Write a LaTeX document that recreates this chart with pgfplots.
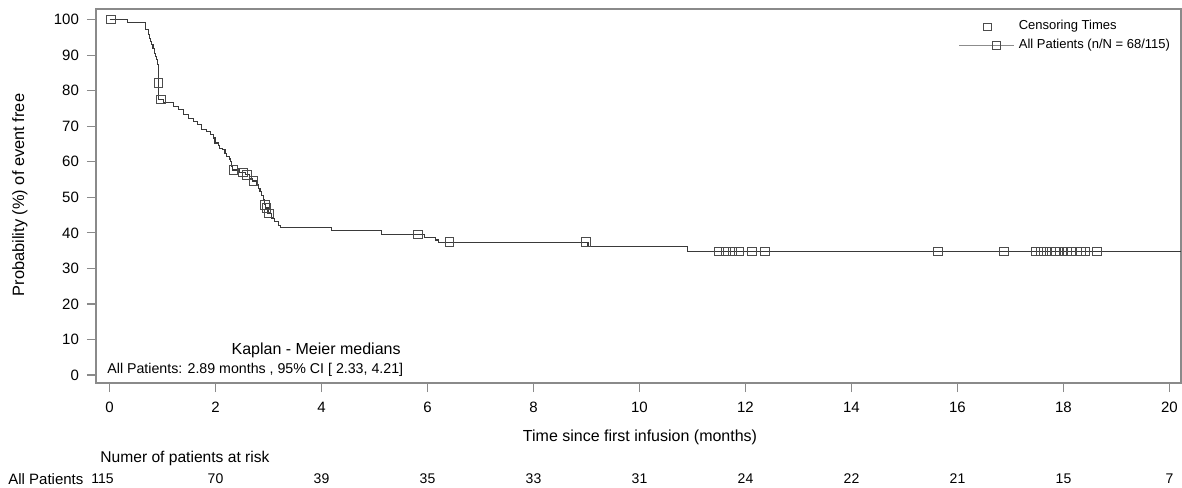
\documentclass[border=0pt]{standalone}
\usepackage{fontspec}
\setmainfont{Liberation Sans}
\usepackage{pgfplots}
\pgfplotsset{compat=1.18}
\definecolor{kmline}{HTML}{3A3A3A}
\definecolor{frame}{HTML}{8A8A8A}
\begin{document}
\begin{tikzpicture}[x=1pt,y=1pt]
\useasboundingbox (0,0) rectangle (591,243.5);
\begin{axis}[
  at={(48pt,52pt)}, anchor=south west,
  scale only axis, width=542.5pt, height=187pt,
  xmin=-0.255, xmax=20.22, ymin=-2.25, ymax=103,
  xtick={0,2,...,20}, ytick={0,10,...,100},
  tick align=outside, xtick pos=left, ytick pos=left,
  major tick length=4.5pt,
  tick style={frame, line width=0.6pt},
  axis line style={frame, line width=0.7pt},
  ticklabel style={font=\fontsize{7.5}{9}\selectfont},
  xticklabel style={yshift=-1.5pt},
  yticklabel style={xshift=-0.5pt},
  /pgf/number format/assume math mode=true,
  legend style={draw=none, fill=none, at={(axis cs:16.02,101.0)}, anchor=north west,
    font=\fontsize{6.5}{8}\selectfont, row sep=-1pt, inner sep=0pt},
  legend cell align=left,
]
\addlegendimage{legend image code/.code={
   \path[draw=none] (0pt,0pt) -- (27.5pt,0pt);
   \draw[black!70, line width=0.4pt, mark=square, mark size=1.9pt] plot coordinates {(14pt,0pt)};}}
\addlegendentry{Censoring Times}
\addlegendimage{legend image code/.code={
   \draw[black!45, line width=0.5pt] (0pt,0pt) -- (27.5pt,0pt);
   \draw[black!70, line width=0.4pt, mark=square, mark size=1.9pt, mark options={fill=white}] plot coordinates {(18.5pt,0pt)};}}
\addlegendentry{All Patients (n/N = 68/115)}

\addplot[const plot, kmline, line width=0.55pt, forget plot] coordinates {
(0,100)(0.34,99.1)(0.68,97.2)(0.73,95.8)(0.75,94.8)(0.77,93.9)(0.80,93.0)(0.82,92.0)
(0.85,90.6)(0.87,89.7)(0.89,88.7)(0.91,87.3)(0.92,82.2)(0.93,77.5)(1.02,76.6)(1.20,75.6)
(1.30,74.6)(1.39,73.2)(1.49,72.3)(1.58,71.4)(1.66,70.6)(1.74,69.0)(1.83,68.5)(1.90,67.6)
(1.96,66.7)(1.99,65.3)(2.05,64.5)(2.08,63.8)(2.14,63.4)(2.18,62.4)(2.21,61.5)(2.26,60.8)
(2.29,60.1)(2.31,58.7)(2.32,57.7)(2.46,57.0)(2.56,56.3)(2.65,55.4)(2.70,54.6)(2.78,53.5)
(2.81,52.6)(2.84,51.6)(2.87,50.4)(2.90,49.3)(2.92,47.9)(2.95,47.0)(2.99,45.5)(3.06,44.1)
(3.12,43.2)(3.19,42.0)(3.22,41.6)(4.19,40.6)(5.14,39.6)(5.95,38.7)(6.16,38.0)(6.20,37.4)
(9.03,36.1)(10.9,34.7)(20.22,34.7)};
\addplot[only marks, mark=square, mark size=2.1pt, mark options={draw=black!70, line width=0.45pt, fill=none}, forget plot] coordinates {
(0.03,100)(0.92,82.2)(0.97,77.5)(2.34,57.7)(2.52,57.0)(2.59,56.3)(2.72,54.6)(2.93,47.9)
(2.96,47.0)(3.01,45.5)(5.82,39.6)(6.42,37.4)(8.99,37.4)(11.50,34.7)(11.63,34.7)(11.76,34.7)
(11.88,34.7)(12.12,34.7)(12.37,34.7)(15.63,34.7)(16.88,34.7)(17.47,34.7)(17.58,34.7)
(17.68,34.7)(17.78,34.7)(17.86,34.7)(17.93,34.7)(18.00,34.7)(18.07,34.7)(18.14,34.7)
(18.33,34.7)(18.42,34.7)(18.63,34.7)};
\end{axis}
\node[rotate=90, font=\fontsize{8.2}{10}\selectfont] at (10,146) {Probability (\%) of event free};
\node[font=\fontsize{8}{10}\selectfont] at (320,25) {Time since first infusion (months)};
\node[anchor=west, font=\fontsize{7.8}{10}\selectfont, inner sep=0pt] at (50,14.5) {Numer of patients at risk};
\node[anchor=west, font=\fontsize{7.5}{10}\selectfont, inner sep=0pt] at (4,4) {All Patients};
\foreach \t/\n/\dx in {0/115/-3.5,2/70/0,4/39/0,6/35/0,8/33/0,10/31/0,12/24/0,14/22/0,16/21/0,18/15/0,20/7/0}{
  \node[font=\fontsize{7}{9}\selectfont, inner sep=0pt] at ({54.75+26.5*\t+\dx},4) {\n};
}
\node[anchor=east, font=\fontsize{8}{10}\selectfont, inner sep=0pt] at (200.5,68.5) {Kaplan - Meier medians};
\node[anchor=west, font=\fontsize{7.1}{10}\selectfont, inner sep=0pt] at (53.5,58.5) {All Patients: 2.89 months , 95\% CI [ 2.33,\ 4.21]};
\end{tikzpicture}
\end{document}
